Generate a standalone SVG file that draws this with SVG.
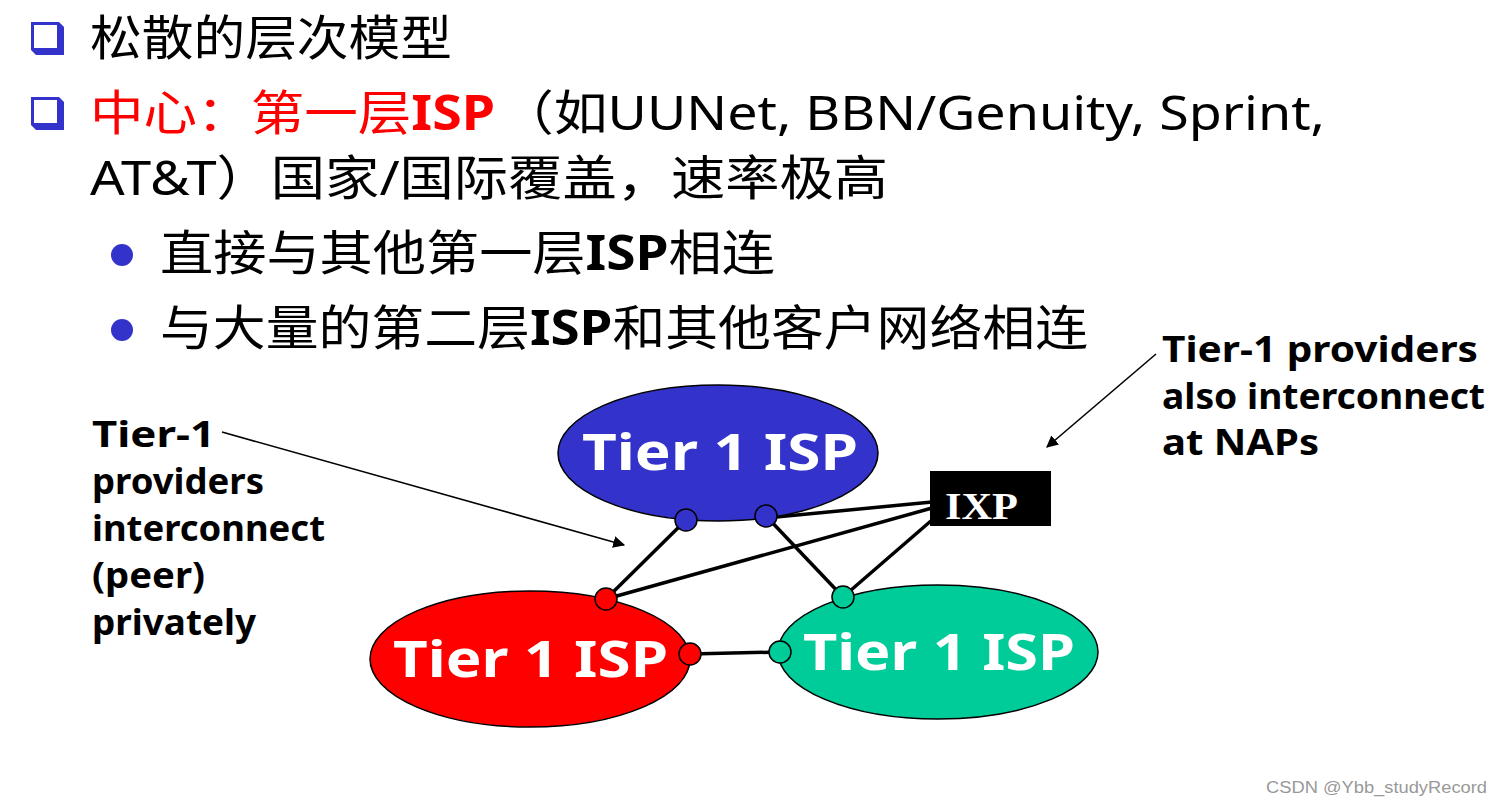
<svg xmlns="http://www.w3.org/2000/svg" width="1502" height="806" viewBox="0 0 1502 806">
<defs>
<style>
.cjk{font-family:"Noto Sans CJK SC","Noto Sans",sans-serif;font-size:48px;fill:#000}
.lat{font-family:"Noto Sans","Noto Sans CJK SC",sans-serif;}
.ann{font-family:"Noto Sans",sans-serif;font-weight:bold;font-size:36px;fill:#000}
.isp{font-family:"Noto Sans",sans-serif;font-weight:bold;font-size:50px;fill:#fff}
.link{stroke:#000;stroke-width:3.5;fill:none}
.ptr{stroke:#000;stroke-width:1.6;fill:none}
.port{stroke:#000;stroke-width:1.5}
</style>
<marker id="ah" viewBox="0 0 10 10" refX="9" refY="5" markerWidth="12" markerHeight="12" markerUnits="userSpaceOnUse" orient="auto">
<path d="M0,0 L10,5 L0,10 z" fill="#000"/>
</marker>
</defs>
<rect width="1502" height="806" fill="#fff"/>

<g id="bullets">
<path d="M31,22 H59 L64,27 V55 H36 L31,50 Z" fill="#3333CC"/>
<rect x="34" y="25" width="23" height="23" fill="#fff"/>
<path d="M31,97 H59 L64,102 V130 H36 L31,125 Z" fill="#3333CC"/>
<rect x="34" y="100" width="23" height="23" fill="#fff"/>
<circle cx="122" cy="255" r="11" fill="#3333CC"/>
<circle cx="122" cy="330" r="11" fill="#3333CC"/>
</g>

<g id="text-lines">
<text class="cjk" x="90" y="55" textLength="362" lengthAdjust="spacingAndGlyphs">松散的层次模型</text>
<text class="cjk" x="90" y="130" fill="#ff0000" style="fill:#ff0000" textLength="405" lengthAdjust="spacingAndGlyphs">中心：第一层<tspan class="lat" font-weight="bold">ISP</tspan></text>
<text class="cjk" x="500" y="130" textLength="825" lengthAdjust="spacingAndGlyphs">（如<tspan class="lat">UUNet, BBN/Genuity, Sprint,</tspan></text>
<text class="cjk" x="90" y="195" textLength="798" lengthAdjust="spacingAndGlyphs"><tspan class="lat">AT&amp;T</tspan>）国家<tspan class="lat">/</tspan>国际覆盖，速率极高</text>
<text class="cjk" x="160" y="270" textLength="615" lengthAdjust="spacingAndGlyphs">直接与其他第一层<tspan class="lat" font-weight="bold">ISP</tspan>相连</text>
<text class="cjk" x="160" y="345" textLength="928" lengthAdjust="spacingAndGlyphs">与大量的第二层<tspan class="lat" font-weight="bold">ISP</tspan>和其他客户网络相连</text>
</g>

<g id="connectors">
<line class="link" x1="686" y1="520" x2="606" y2="599"/>
<line class="link" x1="766" y1="516" x2="843" y2="597"/>
<line class="link" x1="766" y1="518" x2="932" y2="502"/>
<line class="link" x1="606" y1="599" x2="932" y2="508"/>
<line class="link" x1="843" y1="597" x2="932" y2="520"/>
<line class="link" x1="690" y1="654" x2="780" y2="652"/>
<line class="ptr" x1="222" y1="432" x2="624" y2="545" marker-end="url(#ah)"/>
<line class="ptr" x1="1156" y1="354" x2="1047" y2="447" marker-end="url(#ah)"/>
</g>

<g id="isp-blue">
<ellipse cx="718" cy="453" rx="160" ry="68" fill="#3333CC" stroke="#000" stroke-width="1.5"/>
<text class="isp" x="582" y="470" textLength="276" lengthAdjust="spacingAndGlyphs">Tier 1 ISP</text>
<circle class="port" cx="686" cy="520" r="11" fill="#3333CC"/>
<circle class="port" cx="766" cy="516" r="11" fill="#3333CC"/>
</g>

<g id="isp-red">
<ellipse cx="530" cy="659" rx="160" ry="68" fill="#ff0000" stroke="#000" stroke-width="1.5"/>
<text class="isp" x="393" y="677" textLength="275" lengthAdjust="spacingAndGlyphs">Tier 1 ISP</text>
<circle class="port" cx="606" cy="599" r="11" fill="#ff0000"/>
<circle class="port" cx="690" cy="654" r="11" fill="#ff0000"/>
</g>

<g id="isp-green">
<ellipse cx="938" cy="652" rx="160" ry="67" fill="#00CC99" stroke="#000" stroke-width="1.5"/>
<text class="isp" x="803" y="670" textLength="272" lengthAdjust="spacingAndGlyphs">Tier 1 ISP</text>
<circle class="port" cx="843" cy="597" r="11" fill="#00CC99"/>
<circle class="port" cx="780" cy="652" r="11" fill="#00CC99"/>
</g>

<g id="ixp">
<rect x="930" y="471" width="121" height="55" fill="#000"/>
<text x="945" y="519" font-family="Liberation Serif, serif" font-weight="bold" font-size="38" fill="#fff" textLength="73" lengthAdjust="spacingAndGlyphs">IXP</text>
</g>

<g id="note-left">
<text class="ann" x="92" y="447" textLength="123" lengthAdjust="spacingAndGlyphs">Tier-1</text>
<text class="ann" x="92" y="494" textLength="172" lengthAdjust="spacingAndGlyphs">providers</text>
<text class="ann" x="92" y="541" textLength="233" lengthAdjust="spacingAndGlyphs">interconnect</text>
<text class="ann" x="92" y="588" textLength="113" lengthAdjust="spacingAndGlyphs">(peer)</text>
<text class="ann" x="92" y="635" textLength="164" lengthAdjust="spacingAndGlyphs">privately</text>
</g>

<g id="note-right">
<text class="ann" x="1162" y="362" textLength="316" lengthAdjust="spacingAndGlyphs">Tier-1 providers</text>
<text class="ann" x="1162" y="409" textLength="323" lengthAdjust="spacingAndGlyphs">also interconnect</text>
<text class="ann" x="1162" y="455" textLength="157" lengthAdjust="spacingAndGlyphs">at NAPs</text>
</g>

<text x="1266" y="793" font-family="Liberation Sans, Arial, sans-serif" font-size="16" fill="#999" textLength="221" lengthAdjust="spacingAndGlyphs">CSDN @Ybb_studyRecord</text>
</svg>
